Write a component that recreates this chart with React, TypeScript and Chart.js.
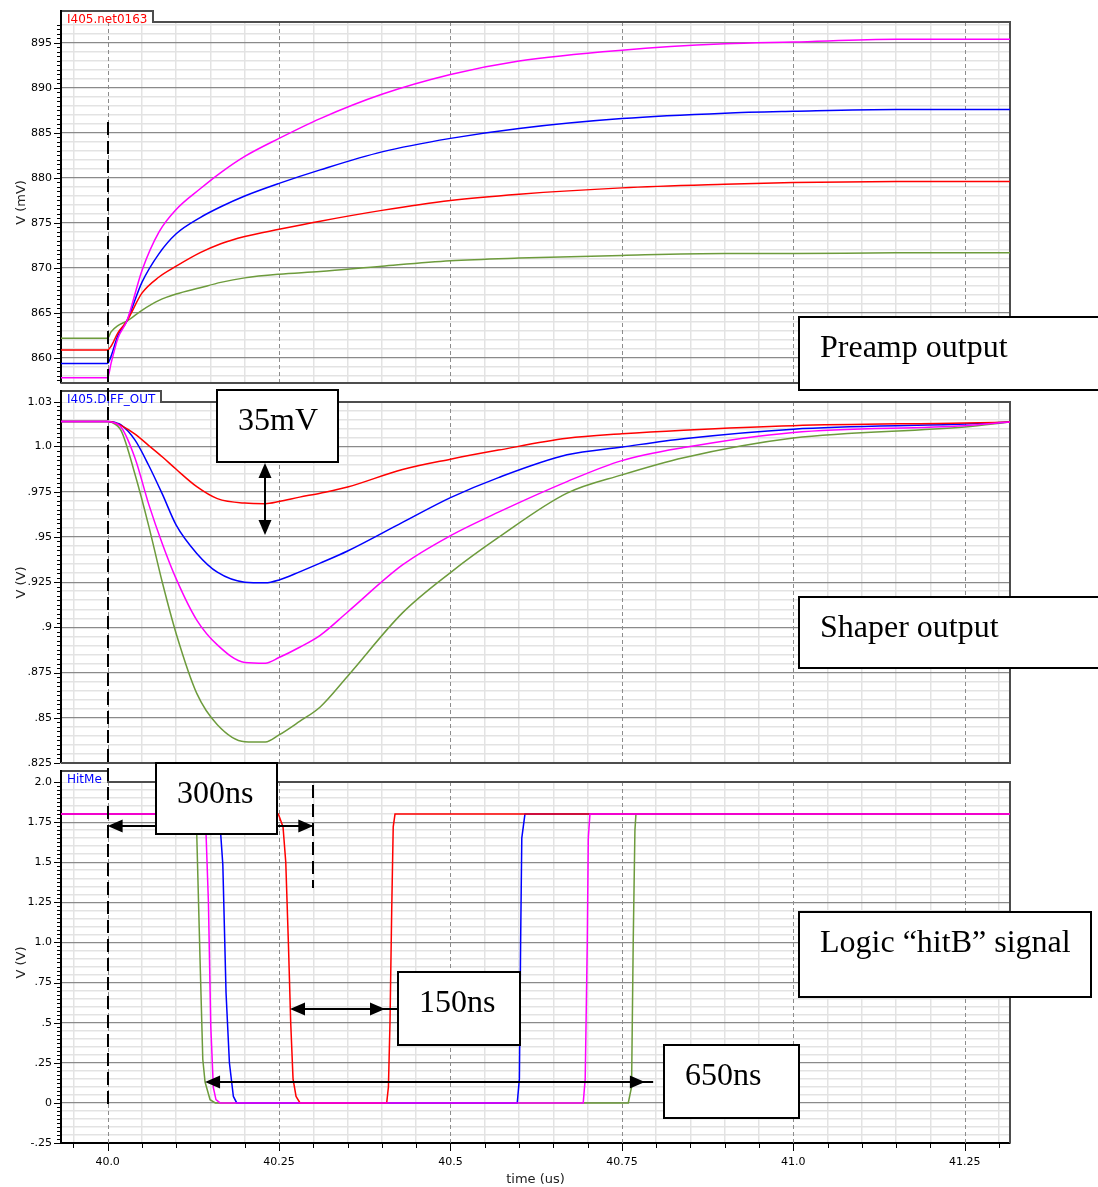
import React, { useEffect, useRef } from 'react';
import { Chart, registerables } from 'chart.js';

Chart.register(...registerables);

// ---------------- Preamp output (I405.net0163), mV ----------------
const preampTime = [39.932, 40.0, 40.005, 40.015, 40.028, 40.05, 40.075, 40.1, 40.135, 40.165, 40.2, 40.25, 40.31, 40.4, 40.5, 40.6, 40.75, 40.9, 41.0, 41.15, 41.316];
const preampMagenta = [857.8, 857.8, 859.4, 862.2, 864.1, 869.7, 874.0, 876.5, 878.8, 880.6, 882.4, 884.4, 886.6, 889.3, 891.5, 893.0, 894.2, 894.9, 895.1, 895.4, 895.4];
const preampRed = [860.9, 860.9, 861.3, 862.8, 864.1, 867.2, 869.0, 870.2, 871.7, 872.7, 873.5, 874.3, 875.2, 876.4, 877.5, 878.2, 878.9, 879.3, 879.5, 879.6, 879.6];
const preampBlue = [859.4, 859.4, 860.2, 862.5, 864.1, 868.4, 871.6, 873.8, 875.6, 876.8, 878.0, 879.4, 880.9, 882.9, 884.4, 885.5, 886.6, 887.2, 887.4, 887.6, 887.6];
const preampGreen = [862.2, 862.2, 862.9, 863.6, 864.1, 865.3, 866.4, 867.1, 867.8, 868.4, 868.9, 869.3, 869.6, 870.2, 870.8, 871.1, 871.4, 871.6, 871.6, 871.7, 871.7];

// ---------------- Shaper output (I405.DIFF_OUT), V ----------------
const shaperTime = [39.932, 40.0, 40.005, 40.02, 40.04, 40.06, 40.08, 40.1, 40.13, 40.16, 40.2, 40.23, 40.25, 40.28, 40.31, 40.35, 40.43, 40.5, 40.57, 40.67, 40.75, 40.84, 41.0, 41.25, 41.316];
const shaperMagenta = [1.0138, 1.0138, 1.0136, 1.0105, 0.9935, 0.968, 0.946, 0.9268, 0.904, 0.8903, 0.8806, 0.8802, 0.8833, 0.889, 0.8956, 0.9085, 0.9345, 0.9507, 0.9637, 0.9806, 0.9922, 0.9994, 1.0078, 1.0115, 1.0135];
const shaperRed = [1.0138, 1.0138, 1.0137, 1.0115, 1.0068, 1.0005, 0.9942, 0.9874, 0.9778, 0.9712, 0.9687, 0.9684, 0.9696, 0.972, 0.9742, 0.9776, 0.9873, 0.993, 0.998, 1.0045, 1.007, 1.009, 1.0115, 1.013, 1.0135];
const shaperBlue = [1.0138, 1.0138, 1.0137, 1.0118, 1.0035, 0.9895, 0.9735, 0.9565, 0.9409, 0.9305, 0.925, 0.9246, 0.9262, 0.9307, 0.9355, 0.9422, 0.958, 0.9717, 0.9828, 0.9954, 0.9997, 1.0043, 1.0096, 1.0124, 1.0135];
const shaperGreen = [1.0138, 1.0138, 1.0135, 1.0085, 0.9845, 0.956, 0.9245, 0.8965, 0.8635, 0.8462, 0.8368, 0.8366, 0.8405, 0.848, 0.856, 0.873, 0.908, 0.9303, 0.9497, 0.9742, 0.9843, 0.9938, 1.0047, 1.0108, 1.0135];

// ---------------- Logic hitB (HitMe), V ----------------
const logicMagentaTime = [39.932, 40.14, 40.1436, 40.147, 40.1504, 40.1542, 40.158, 40.164, 40.6936, 40.6965, 40.6995, 40.701, 40.7034, 41.316];
const logicMagenta = [1.8, 1.8, 1.67, 1.25, 0.48, 0.095, 0.02, 0, 0, 0.15, 1.0, 1.65, 1.8, 1.8];
const logicRedTime = [39.932, 40.249, 40.2558, 40.2598, 40.2636, 40.267, 40.2704, 40.2748, 40.2806, 40.407, 40.4095, 40.4118, 40.4143, 40.4165, 40.4191, 41.316];
const logicRed = [1.8, 1.8, 1.72, 1.5, 1.0, 0.5, 0.15, 0.04, 0, 0, 0.1, 0.5, 1.2, 1.72, 1.8, 1.8];
const logicBlueTime = [39.932, 40.161, 40.165, 40.168, 40.1727, 40.1776, 40.1834, 40.1883, 40.5974, 40.6005, 40.6023, 40.604, 40.6086, 41.316];
const logicBlue = [1.8, 1.8, 1.67, 1.485, 0.685, 0.25, 0.04, 0, 0, 0.15, 1.0, 1.65, 1.8, 1.8];
const logicGreenTime = [39.932, 40.126, 40.13, 40.1348, 40.1388, 40.1421, 40.1494, 40.157, 40.7593, 40.7641, 40.7665, 40.769, 40.7705, 41.316];
const logicGreen = [1.8, 1.8, 1.67, 0.89, 0.27, 0.13, 0.02, 0, 0, 0.1, 1.0, 1.7, 1.8, 1.8];

// ---------------- Axes ----------------
const X_MIN = 39.932;
const X_MAX = 41.316;
const PRE_MIN = 857.22;
const PRE_MAX = 897.33;
const SH_MIN = 0.825;
const SH_MAX = 1.0246;
const LO_MIN = -0.25;
const LO_MAX = 2.0;

const xTickValues = [40.0, 40.25, 40.5, 40.75, 41.0, 41.25];
const xTickLabels = ['40.0', '40.25', '40.5', '40.75', '41.0', '41.25'];
const preampTickValues = [860, 865, 870, 875, 880, 885, 890, 895];
const preampTickLabels = ['860', '865', '870', '875', '880', '885', '890', '895'];
const shaperTickValues = [0.825, 0.85, 0.875, 0.9, 0.925, 0.95, 0.975, 1.0, SH_MAX];
const shaperTickLabels = ['.825', '.85', '.875', '.9', '.925', '.95', '.975', '1.0', '1.03'];
const logicTickValues = [-0.25, 0, 0.25, 0.5, 0.75, 1.0, 1.25, 1.5, 1.75, 2.0];
const logicTickLabels = ['-.25', '0', '.25', '.5', '.75', '1.0', '1.25', '1.5', '1.75', '2.0'];

// ---------------- Annotations (data units) ----------------
const boxNotes = [
  { text: 'Preamp output', axis: 'yPre', t1: 41.0085, t2: null as number | null, v1: 864.59, v2: 856.44 },
  { text: 'Shaper output', axis: 'ySh', t1: 41.008, t2: null as number | null, v1: 0.9169, v2: 0.8774 },
  { text: 'Logic \u201chitB\u201d signal', axis: 'yLo', t1: 41.0085, t2: 41.4337, v1: 1.1879, v2: 0.6618 },
  { text: '35mV', axis: 'ySh', t1: 40.1592, t2: 40.336, v1: 1.0312, v2: 0.9916 },
  { text: '300ns', axis: 'yLo', t1: 40.0703, t2: 40.2475, v1: 2.1203, v2: 1.6759 },
  { text: '150ns', axis: 'yLo', t1: 40.4239, t2: 40.6013, v1: 0.8139, v2: 0.3608 },
  { text: '650ns', axis: 'yLo', t1: 40.8112, t2: 41.008, v1: 0.3608, v2: -0.0942 },
];
const hArrowNotes = [
  { axis: 'yLo', v: 1.7258, t1: 40.0, t2: 40.3, shaftEnd: 40.3 },
  { axis: 'yLo', v: 0.5851, t1: 40.266, t2: 40.4045, shaftEnd: 40.4239 },
  { axis: 'yLo', v: 0.132, t1: 40.1421, t2: 40.7835, shaftEnd: 40.7956 },
];
const vArrowNote = { axis: 'ySh', t: 40.2296, v1: 0.9909, v2: 0.9511 };
const markerStart = { t: 40.0, preTop: 886.22, logicBottom: -0.032 };
const marker300 = { t: 40.3, top: 1.981, bottom: 1.339 };

const FONT_SANS = '"DejaVu Sans", sans-serif';
const FONT_SERIF = '"Liberation Serif", "Times New Roman", serif';
const MAGENTA = '#ff00ff';
const RED = '#ff0000';
const BLUE = '#0000ff';
const GREEN = '#6d9b3c';
const MINOR_GRID = '#e3e3e3';
const MAJOR_GRID = '#8a8a8a';
const FRAME = '#4d4d4d';

const near = (a: number, b: number) => Math.abs(a - b) < 1e-6;
const isMultiple = (v: number, step: number) => Math.abs(v / step - Math.round(v / step)) < 1e-6;

function makeTicks(min: number, max: number, step: number) {
  const out: { value: number }[] = [];
  const k0 = Math.ceil(min / step - 1e-9);
  const k1 = Math.floor(max / step + 1e-9);
  for (let k = k0; k <= k1; k++) out.push({ value: +(k * step).toFixed(6) });
  return out;
}

function labelFrom(values: number[], labels: string[]) {
  return (value: any) => {
    const i = values.findIndex((v) => near(v, Number(value)));
    return i >= 0 ? labels[i] : '';
  };
}

function mk(label: string, xs: number[], ys: number[], color: string, axis: string, smooth: boolean) {
  return {
    label,
    data: xs.map((x, i) => ({ x, y: ys[i] })),
    borderColor: color,
    backgroundColor: color,
    borderWidth: 1.5,
    pointRadius: 0,
    pointHoverRadius: 0,
    fill: false,
    xAxisID: 'x',
    yAxisID: axis,
    tension: smooth ? 0.4 : 0,
    cubicInterpolationMode: smooth ? 'monotone' : 'default',
  };
}

function yAxis(opts: {
  min: number; max: number; weight: number; title: string;
  gridStep: number; majorValues: number[]; labels: string[]; extra?: number[];
}) {
  return {
    type: 'linear',
    position: 'left',
    stack: 'panels',
    stackWeight: 361,
    weight: opts.weight,
    min: opts.min,
    max: opts.max,
    bounds: 'data',
    afterBuildTicks: (scale: any) => {
      const t = makeTicks(opts.min, opts.max, opts.gridStep);
      (opts.extra || []).forEach((v) => t.push({ value: v }));
      scale.ticks = t;
    },
    afterFit: (scale: any) => {
      scale.width = 61;
    },
    ticks: {
      autoSkip: false,
      padding: 9,
      color: '#000',
      font: { family: FONT_SANS, size: 11 },
      callback: labelFrom(opts.majorValues, opts.labels),
    },
    grid: {
      drawTicks: false,
      color: (c: any) => {
        const v = c.tick ? c.tick.value : NaN;
        return opts.majorValues.some((m) => near(m, v)) ? MAJOR_GRID : MINOR_GRID;
      },
      lineWidth: (c: any) => {
        const v = c.tick ? c.tick.value : NaN;
        return opts.majorValues.some((m) => near(m, v)) ? 1.2 : 1.5;
      },
    },
    border: { color: '#000', width: 2 },
    title: {
      display: true,
      text: opts.title,
      color: '#222',
      font: { family: FONT_SANS, size: 13 },
      padding: { top: 14, bottom: 0 },
    },
  };
}

function spacer(weight: number) {
  return {
    type: 'linear',
    axis: 'y',
    position: 'left',
    stack: 'panels',
    stackWeight: 19,
    weight,
    display: false,
  };
}

function head(ctx: CanvasRenderingContext2D, tx: number, ty: number, dx: number, dy: number) {
  const len = 15;
  const hw = 6.5;
  const bx = tx - dx * len;
  const by = ty - dy * len;
  ctx.beginPath();
  ctx.moveTo(tx, ty);
  ctx.lineTo(bx - dy * hw, by + dx * hw);
  ctx.lineTo(bx + dy * hw, by - dx * hw);
  ctx.closePath();
  ctx.fill();
}

const overlayPlugin = {
  id: 'scopeOverlay',
  beforeDatasetsDraw(chart: any) {
    const { ctx, chartArea: ca } = chart;
    const sx = chart.scales.x;
    const panels = [
      { s: chart.scales.yPre, tab: 'I405.net0163', color: RED, step: 0.5, major: 5 },
      { s: chart.scales.ySh, tab: 'I405.DIFF_OUT', color: BLUE, step: 0.0025, major: 0.025 },
      { s: chart.scales.yLo, tab: 'HitMe', color: BLUE, step: 0.025, major: 0.25 },
    ];
    ctx.save();
    // blank the gaps between panels
    ctx.fillStyle = '#fff';
    for (let i = 0; i < panels.length - 1; i++) {
      const y0 = panels[i].s.bottom;
      const y1 = panels[i + 1].s.top;
      ctx.fillRect(ca.left + 1, y0, ca.right - ca.left + 4, y1 - y0);
    }
    // dashed major vertical grid
    ctx.strokeStyle = '#8c8c8c';
    ctx.lineWidth = 1;
    ctx.setLineDash([4, 3]);
    for (const t of xTickValues) {
      const x = Math.round(sx.getPixelForValue(t)) + 0.5;
      for (const p of panels) {
        ctx.beginPath();
        ctx.moveTo(x, p.s.top);
        ctx.lineTo(x, p.s.bottom);
        ctx.stroke();
      }
    }
    ctx.setLineDash([]);
    // frames and tabs
    ctx.font = `12px ${FONT_SANS}`;
    panels.forEach((p, idx) => {
      const top = Math.round(p.s.top);
      const bottom = Math.round(p.s.bottom);
      const tw = ctx.measureText(p.tab).width;
      const tabL = ca.left;
      const tabR = Math.round(ca.left + tw + 12);
      const tabT = top - 11;
      ctx.fillStyle = '#fff';
      ctx.fillRect(tabL, tabT, tabR - tabL, 11);
      ctx.strokeStyle = FRAME;
      ctx.lineWidth = 2;
      ctx.beginPath();
      ctx.moveTo(tabL, tabT);
      ctx.lineTo(tabR, tabT);
      ctx.lineTo(tabR, top);
      ctx.lineTo(ca.right, top);
      ctx.lineTo(ca.right, bottom);
      if (idx < panels.length - 1) ctx.lineTo(ca.left, bottom);
      ctx.stroke();
      ctx.strokeStyle = '#000';
      ctx.beginPath();
      ctx.moveTo(ca.left, tabT - 1);
      ctx.lineTo(ca.left, top);
      ctx.stroke();
      ctx.fillStyle = p.color;
      ctx.textAlign = 'left';
      ctx.textBaseline = 'alphabetic';
      ctx.fillText(p.tab, ca.left + 6, top + 1);
      // left tick marks
      ctx.strokeStyle = '#000';
      ctx.lineWidth = 1;
      const ticks = makeTicks(p.s.min, p.s.max, p.step);
      if (idx === 1) ticks.push({ value: SH_MAX });
      for (const tk of ticks) {
        const y = Math.round(p.s.getPixelForValue(tk.value)) + 0.5;
        const len = isMultiple(tk.value, p.major) || near(tk.value, SH_MAX) ? 6 : 3;
        ctx.beginPath();
        ctx.moveTo(ca.left - 1 - len, y);
        ctx.lineTo(ca.left - 1, y);
        ctx.stroke();
      }
    });
    // bottom tick marks
    for (const tk of makeTicks(sx.min, sx.max, 0.05)) {
      const x = Math.round(sx.getPixelForValue(tk.value)) + 0.5;
      const len = isMultiple(tk.value, 0.25) ? 7 : 4;
      ctx.beginPath();
      ctx.moveTo(x, ca.bottom + 1);
      ctx.lineTo(x, ca.bottom + 1 + len);
      ctx.stroke();
    }
    ctx.restore();
  },
  afterDatasetsDraw(chart: any) {
    const { ctx, width } = chart;
    const sx = chart.scales.x;
    const X = (t: number) => sx.getPixelForValue(t);
    const Y = (axis: string, v: number) => chart.scales[axis].getPixelForValue(v);
    ctx.save();
    ctx.strokeStyle = '#000';
    ctx.fillStyle = '#000';
    ctx.lineWidth = 2;
    // dashed markers
    ctx.setLineDash([13, 6]);
    let x = Math.round(X(markerStart.t));
    ctx.beginPath();
    ctx.moveTo(x, Y('yPre', markerStart.preTop));
    ctx.lineTo(x, Y('yLo', markerStart.logicBottom));
    ctx.stroke();
    x = Math.round(X(marker300.t));
    ctx.beginPath();
    ctx.moveTo(x, Y('yLo', marker300.top));
    ctx.lineTo(x, Y('yLo', marker300.bottom));
    ctx.stroke();
    ctx.setLineDash([]);
    // horizontal arrows
    for (const a of hArrowNotes) {
      const y = Math.round(Y(a.axis, a.v));
      const x1 = X(a.t1);
      const x2 = X(a.t2);
      const xe = X(a.shaftEnd);
      ctx.beginPath();
      ctx.moveTo(x1 + 4, y);
      ctx.lineTo(xe, y);
      ctx.stroke();
      head(ctx, x1, y, -1, 0);
      head(ctx, x2, y, 1, 0);
    }
    // vertical arrow (35mV)
    {
      const vx = Math.round(X(vArrowNote.t));
      const y1 = Y(vArrowNote.axis, vArrowNote.v1);
      const y2 = Y(vArrowNote.axis, vArrowNote.v2);
      ctx.beginPath();
      ctx.moveTo(vx, y1 + 4);
      ctx.lineTo(vx, y2 - 4);
      ctx.stroke();
      head(ctx, vx, y1, 0, -1);
      head(ctx, vx, y2, 0, 1);
    }
    // text boxes
    for (const b of boxNotes) {
      const bx1 = Math.round(X(b.t1));
      const bx2 = b.t2 === null ? width + 10 : Math.round(X(b.t2));
      const by1 = Math.round(Y(b.axis, b.v1));
      const by2 = Math.round(Y(b.axis, b.v2));
      ctx.fillStyle = '#fff';
      ctx.fillRect(bx1, by1, bx2 - bx1, by2 - by1);
      ctx.strokeStyle = '#000';
      ctx.lineWidth = 2;
      ctx.strokeRect(bx1, by1, bx2 - bx1, by2 - by1);
      ctx.fillStyle = '#000';
      ctx.font = `32px ${FONT_SERIF}`;
      ctx.textAlign = 'left';
      ctx.textBaseline = 'alphabetic';
      ctx.fillText(b.text, bx1 + 21, by1 + 40);
    }
    ctx.restore();
  },
};

export default function App() {
  const ref = useRef<HTMLCanvasElement | null>(null);
  useEffect(() => {
    if (!ref.current) return;
    const config: any = {
      type: 'line',
      data: {
        datasets: [
          mk('Preamp magenta', preampTime, preampMagenta, MAGENTA, 'yPre', true),
          mk('Preamp red', preampTime, preampRed, RED, 'yPre', true),
          mk('Preamp blue', preampTime, preampBlue, BLUE, 'yPre', true),
          mk('Preamp green', preampTime, preampGreen, GREEN, 'yPre', true),
          mk('Shaper magenta', shaperTime, shaperMagenta, MAGENTA, 'ySh', true),
          mk('Shaper red', shaperTime, shaperRed, RED, 'ySh', true),
          mk('Shaper blue', shaperTime, shaperBlue, BLUE, 'ySh', true),
          mk('Shaper green', shaperTime, shaperGreen, GREEN, 'ySh', true),
          mk('Logic magenta', logicMagentaTime, logicMagenta, MAGENTA, 'yLo', false),
          mk('Logic red', logicRedTime, logicRed, RED, 'yLo', false),
          mk('Logic blue', logicBlueTime, logicBlue, BLUE, 'yLo', false),
          mk('Logic green', logicGreenTime, logicGreen, GREEN, 'yLo', false),
        ],
      },
      options: {
        responsive: false,
        maintainAspectRatio: false,
        animation: false,
        events: [],
        layout: { padding: { left: 0, right: 88, top: 22, bottom: 0 } },
        plugins: { legend: { display: false }, tooltip: { enabled: false }, title: { display: false } },
        scales: {
          x: {
            type: 'linear',
            position: 'bottom',
            min: X_MIN,
            max: X_MAX,
            bounds: 'data',
            afterBuildTicks: (scale: any) => {
              scale.ticks = makeTicks(X_MIN, X_MAX, 0.05);
            },
            afterFit: (scale: any) => {
              scale.height = 44;
            },
            ticks: {
              autoSkip: false,
              maxRotation: 0,
              minRotation: 0,
              padding: 13,
              color: '#000',
              font: { family: FONT_SANS, size: 11 },
              callback: labelFrom(xTickValues, xTickLabels),
            },
            grid: {
              drawTicks: false,
              color: (c: any) => {
                const v = c.tick ? c.tick.value : NaN;
                return isMultiple(v, 0.25) ? 'rgba(0,0,0,0)' : MINOR_GRID;
              },
              lineWidth: 1.5,
            },
            border: { color: '#000', width: 2 },
            title: {
              display: true,
              text: 'time (us)',
              color: '#222',
              font: { family: FONT_SANS, size: 13 },
              padding: { top: 0, bottom: 0 },
            },
          },
          yLo: yAxis({ min: LO_MIN, max: LO_MAX, weight: 1, title: 'V (V)', gridStep: 0.05, majorValues: logicTickValues, labels: logicTickLabels }),
          gapB: spacer(2),
          ySh: yAxis({ min: SH_MIN, max: SH_MAX, weight: 3, title: 'V (V)', gridStep: 0.005, majorValues: shaperTickValues, labels: shaperTickLabels, extra: [SH_MAX] }),
          gapA: spacer(4),
          yPre: yAxis({ min: PRE_MIN, max: PRE_MAX, weight: 5, title: 'V (mV)', gridStep: 1, majorValues: preampTickValues, labels: preampTickLabels }),
        },
      },
      plugins: [overlayPlugin],
    };
    const chart = new Chart(ref.current, config);
    return () => chart.destroy();
  }, []);
  return (
    <div style={{ position: 'absolute', left: 0, top: 0, width: 1098, height: 1187, background: '#fff' }}>
      <canvas ref={ref} width={1098} height={1187} style={{ display: 'block' }} />
    </div>
  );
}
